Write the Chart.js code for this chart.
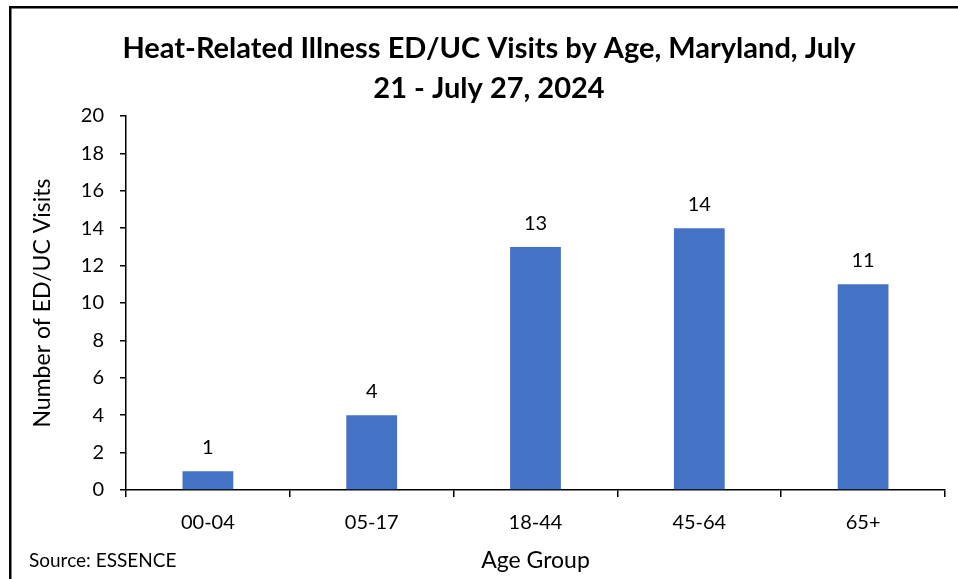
<!DOCTYPE html>
<html>
<head>
<meta charset="utf-8">
<script src="https://cdn.jsdelivr.net/npm/chart.js@4.4.1/dist/chart.umd.min.js"></script>
<style>
  html, body { margin: 0; padding: 0; background: #fff; }
  canvas { display: block; }
</style>
</head>
<body>
<canvas id="chart" width="958" height="579"></canvas>
<script>
const ageGroups = ['00-04', '05-17', '18-44', '45-64', '65+'];
const visits = [1, 4, 13, 14, 11];
const yMin = 0;
const yMax = 20;
const yStep = 2;

const titleLines = ['Heat-Related Illness ED/UC Visits by Age, Maryland, July', '21 - July 27, 2024'];
const sourceText = 'Source: ESSENCE';

const FONT = 'Lato, "Open Sans", sans-serif';

// frame, title, source note and value labels
const decorations = {
    id: 'decorations',
    beforeDraw(chart) {
        const ctx = chart.ctx;
        ctx.save();
        ctx.fillStyle = '#fff';
        ctx.fillRect(0, 0, chart.width, chart.height);
        ctx.fillStyle = '#000';
        ctx.fillRect(9, 6, 2.5, chart.height);
        ctx.fillRect(9, 6, chart.width, 2.5);
        ctx.restore();
    },
    afterDraw(chart) {
        const ctx = chart.ctx;
        ctx.save();
        ctx.fillStyle = '#000';
        ctx.textAlign = 'center';
        ctx.textBaseline = 'alphabetic';
        ctx.font = 'bold 29px ' + FONT;
        ctx.fillText(titleLines[0], 489, 58);
        ctx.fillText(titleLines[1], 489, 98);

        ctx.textAlign = 'left';
        ctx.font = '19px ' + FONT;
        ctx.fillText(sourceText, 29, 567);

        ctx.textAlign = 'center';
        ctx.font = '20px ' + FONT;
        const meta = chart.getDatasetMeta(0);
        meta.data.forEach((bar, i) => {
            ctx.fillText(String(visits[i]), bar.x, bar.y - 17);
        });
        ctx.restore();
    }
};

new Chart(document.getElementById('chart'), {
    type: 'bar',
    data: {
        labels: ageGroups,
        datasets: [{
            data: visits,
            backgroundColor: '#4472C4',
            borderWidth: 0,
            categoryPercentage: 1,
            barPercentage: 0.31
        }]
    },
    options: {
        responsive: false,
        animation: false,
        layout: { padding: { top: 116, right: 13, bottom: 0, left: 0 } },
        plugins: {
            legend: { display: false },
            tooltip: { enabled: false }
        },
        scales: {
            x: {
                afterFit(scale) { scale.height = 89; },
                grid: {
                    display: true,
                    drawOnChartArea: false,
                    drawTicks: true,
                    tickLength: 7,
                    color: '#000',
                    lineWidth: 1.5
                },
                border: { display: true, color: '#000', width: 1.5 },
                ticks: {
                    color: '#000',
                    font: { family: FONT, size: 20 },
                    padding: 14
                },
                title: {
                    display: true,
                    text: 'Age Group',
                    color: '#000',
                    font: { family: FONT, size: 23 },
                    padding: { top: 0, bottom: 5 }
                }
            },
            y: {
                min: yMin,
                max: yMax,
                afterFit(scale) { scale.width = 126; },
                grid: {
                    display: true,
                    drawOnChartArea: false,
                    drawTicks: true,
                    tickLength: 6,
                    color: '#000',
                    lineWidth: 1.5
                },
                border: { display: true, color: '#000', width: 1.5 },
                ticks: {
                    stepSize: yStep,
                    color: '#000',
                    font: { family: FONT, size: 20 },
                    padding: 16
                },
                title: {
                    display: true,
                    text: 'Number of ED/UC Visits',
                    color: '#000',
                    font: { family: FONT, size: 23 },
                    padding: { top: 29, bottom: 0 }
                }
            }
        }
    },
    plugins: [decorations]
});
</script>
</body>
</html>
